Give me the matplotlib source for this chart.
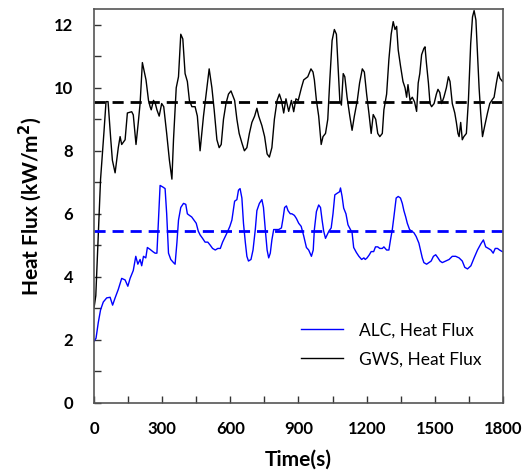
import matplotlib.pyplot as plt
from matplotlib.ticker import MultipleLocator

plt.rcParams['font.family'] = ['Lato', 'DejaVu Sans']

# GWS heat flux (black)
gws_time = [0, 8, 19, 29, 38, 44, 53, 62, 74, 81, 93, 107, 115, 122, 137, 147, 166, 173, 185, 195,
            203, 213, 222, 229, 240, 247, 252, 262, 270, 277, 287, 298, 307, 320, 332, 343, 350, 362,
            372, 382, 391, 401, 411, 420, 431, 445, 455, 467, 482, 497, 507, 519, 529, 541, 551, 560,
            570, 581, 592, 603, 611, 619, 629, 639, 651, 662, 673, 684, 695, 707, 717, 725, 739, 751,
            762, 772, 783, 794, 806, 816, 825, 835, 845, 857, 869, 879, 889, 899, 913, 923, 941, 955,
            964, 970, 979, 989, 1000, 1008, 1019, 1029, 1038, 1048, 1058, 1067, 1074, 1082, 1089,
            1097, 1104, 1114, 1126, 1136, 1146, 1159, 1169, 1181, 1190, 1200, 1210, 1220, 1229, 1240,
            1249, 1258, 1269, 1276, 1288, 1298, 1308, 1317, 1325, 1332, 1339, 1349, 1360, 1369, 1376,
            1382, 1391, 1401, 1411, 1420, 1427, 1434, 1442, 1452, 1457, 1463, 1472, 1479, 1486, 1497,
            1507, 1514, 1522, 1530, 1540, 1551, 1560, 1567, 1577, 1588, 1595, 1602, 1607, 1614, 1621,
            1628, 1639, 1648, 1658, 1666, 1673, 1681, 1688, 1695, 1702, 1710, 1720, 1732, 1742, 1751,
            1761, 1771, 1780, 1787, 1798]
gws_flux = [3.0, 3.4, 5.3, 7.1, 8.0, 8.6, 9.56, 9.56, 8.35, 7.7, 7.3, 8.1, 8.45, 8.2, 8.35, 9.2, 9.24,
            9.14, 8.2, 8.9, 9.5, 10.8, 10.5, 10.25, 9.6, 9.4, 9.3, 9.6, 9.5, 9.3, 9.1, 9.5, 9.4, 8.55,
            7.7, 7.1, 8.35, 10.0, 10.35, 11.7, 11.55, 10.45, 10.2, 9.6, 9.4, 9.4, 9.1, 8.0, 9.1, 10.0,
            10.6, 10.0, 9.3, 8.35, 8.1, 8.2, 9.0, 9.5, 9.8, 9.9, 9.75, 9.6, 9.0, 8.55, 8.25, 8.0, 8.1,
            8.55, 8.9, 9.1, 9.35, 9.1, 8.8, 8.45, 7.9, 7.8, 8.1, 9.0, 9.6, 9.8, 9.6, 9.2, 9.65, 9.25,
            9.6, 9.24, 9.65, 9.6, 10.0, 10.25, 10.35, 10.6, 10.5, 10.25, 9.6, 9.1, 8.2, 8.45, 8.55, 9.0,
            10.25, 11.5, 11.85, 11.7, 10.7, 9.6, 9.45, 10.45, 10.35, 9.7, 9.1, 8.65, 9.1, 9.6, 10.15,
            10.6, 10.5, 9.8, 9.2, 8.55, 9.15, 9.0, 8.55, 8.45, 8.55, 9.3, 9.8, 10.9, 11.7, 12.1, 11.85,
            11.95, 11.2, 10.7, 10.2, 10.0, 9.7, 10.1, 9.6, 9.7, 9.55, 9.25, 10.15, 10.45, 11.05, 11.25,
            11.3, 10.8, 10.15, 9.5, 9.4, 9.5, 9.8, 9.95, 9.85, 9.5, 9.7, 10.0, 10.35, 10.2, 9.5, 9.2,
            8.9, 8.55, 8.45, 8.9, 8.35, 8.45, 8.55, 9.6, 11.4, 12.25, 12.45, 12.15, 11.1, 10.0, 9.2,
            8.45, 8.8, 9.2, 9.5, 9.6, 9.7, 10.15, 10.5, 10.3, 10.2]

# ALC heat flux (blue)
alc_time = [0, 9, 19, 29, 41, 56, 71, 82, 93, 107, 122, 137, 149, 159, 173, 184, 193, 203, 210, 218,
            228, 235, 247, 259, 269, 277, 284, 291, 303, 313, 320, 328, 338, 350, 357, 365, 372, 382,
            394, 404, 411, 420, 430, 440, 450, 459, 467, 478, 489, 501, 512, 522, 534, 545, 556, 566,
            578, 589, 598, 607, 619, 629, 636, 643, 651, 658, 666, 673, 680, 691, 700, 710, 717, 728,
            739, 746, 754, 762, 769, 776, 783, 791, 801, 813, 825, 832, 839, 847, 854, 864, 871, 882,
            891, 901, 912, 923, 935, 945, 957, 965, 970, 979, 989, 997, 1004, 1011, 1019, 1026, 1034,
            1044, 1052, 1060, 1070, 1081, 1085, 1092, 1099, 1109, 1118, 1129, 1136, 1143, 1155, 1166,
            1178, 1188, 1194, 1202, 1212, 1220, 1231, 1239, 1249, 1258, 1269, 1276, 1288, 1298, 1305,
            1313, 1320, 1330, 1339, 1349, 1357, 1364, 1372, 1379, 1389, 1398, 1408, 1418, 1430, 1437,
            1445, 1452, 1464, 1474, 1484, 1494, 1504, 1514, 1523, 1533, 1548, 1563, 1577, 1592, 1607,
            1621, 1632, 1644, 1659, 1673, 1688, 1703, 1714, 1724, 1736, 1747, 1757, 1766, 1776, 1785,
            1797]
alc_flux = [1.95, 2.05, 2.55, 2.95, 3.2, 3.33, 3.35, 3.1, 3.33, 3.6, 3.95, 3.9, 3.7, 3.95, 4.2, 4.65,
            4.4, 4.55, 4.35, 4.65, 4.6, 4.93, 4.87, 4.8, 4.75, 4.75, 5.8, 6.9, 6.85, 6.8, 6.0, 4.75,
            4.55, 4.45, 4.4, 5.08, 5.8, 6.2, 6.33, 6.3, 6.0, 5.95, 5.9, 5.8, 5.7, 5.45, 5.33, 5.22, 5.1,
            5.1, 5.0, 4.9, 4.85, 4.9, 4.9, 5.1, 5.28, 5.45, 5.6, 5.8, 6.4, 6.45, 6.75, 6.8, 6.5, 5.7,
            5.1, 4.65, 4.5, 4.55, 4.85, 5.5, 6.1, 6.33, 6.45, 6.2, 5.5, 4.85, 4.6, 4.75, 5.17, 5.5, 5.5,
            5.5, 5.55, 5.85, 6.2, 6.25, 6.1, 6.0, 6.0, 5.95, 5.85, 5.7, 5.6, 5.3, 4.93, 4.85, 4.65,
            4.85, 5.5, 6.07, 6.28, 6.2, 5.8, 5.45, 5.22, 5.33, 5.45, 5.55, 6.0, 6.6, 6.65, 6.7, 6.82,
            6.55, 6.18, 6.0, 5.65, 5.5, 5.4, 4.93, 4.77, 4.65, 4.55, 4.6, 4.55, 4.6, 4.7, 4.8, 4.8,
            4.95, 4.95, 4.9, 4.9, 4.95, 4.85, 4.85, 5.17, 5.5, 5.9, 6.5, 6.55, 6.5, 6.33, 6.1, 5.9,
            5.7, 5.5, 5.45, 5.4, 5.28, 5.07, 4.85, 4.6, 4.45, 4.4, 4.45, 4.5, 4.65, 4.7, 4.6, 4.5,
            4.45, 4.5, 4.55, 4.65, 4.65, 4.6, 4.5, 4.3, 4.25, 4.35, 4.6, 4.85, 5.05, 5.17, 4.95, 4.9,
            4.85, 4.75, 4.9, 4.9, 4.85, 4.8]

# average levels (dashed)
gws_mean = 9.55
alc_mean = 5.45

fig = plt.figure(figsize=(5.25, 4.75), dpi=100)
ax = fig.add_axes([0.179, 0.152, 0.779, 0.829])

ax.plot(alc_time, alc_flux, color='#0000ff', linewidth=1.0, label='ALC, Heat Flux')
ax.plot(gws_time, gws_flux, color='black', linewidth=1.0, label='GWS, Heat Flux')
ax.axhline(alc_mean, color='#0000ff', linewidth=2.0, linestyle=(0, (4, 2.5)))
ax.axhline(gws_mean, color='black', linewidth=2.0, linestyle=(0, (4, 2.5)))

ax.set_xlim(0, 1800)
ax.set_ylim(0, 12.5)
ax.xaxis.set_major_locator(MultipleLocator(300))
ax.xaxis.set_minor_locator(MultipleLocator(150))
ax.yaxis.set_major_locator(MultipleLocator(2))
ax.yaxis.set_minor_locator(MultipleLocator(1))
ax.tick_params(which='both', direction='in', length=5, width=1, color='#333333',
               top=False, right=False, labelsize=12)
ax.tick_params(axis='x', pad=13)
ax.tick_params(axis='y', pad=15)
for lab in ax.get_xticklabels() + ax.get_yticklabels():
    lab.set_fontweight('bold')
for sp in ax.spines.values():
    sp.set_color('#555555')
    sp.set_linewidth(1.2)

ax.set_xlabel('Time(s)', fontsize=15, fontweight='bold', labelpad=9)
ax.set_ylabel(r'Heat Flux (kW/m$\mathbf{^2}$)', fontsize=15, fontweight='bold', labelpad=7)

ax.legend(loc='lower right', bbox_to_anchor=(0.985, 0.05), frameon=False, fontsize=12.5,
          handlelength=2.4, handletextpad=0.9, labelspacing=0.75)

plt.savefig('out.png', dpi=100)
plt.close()
